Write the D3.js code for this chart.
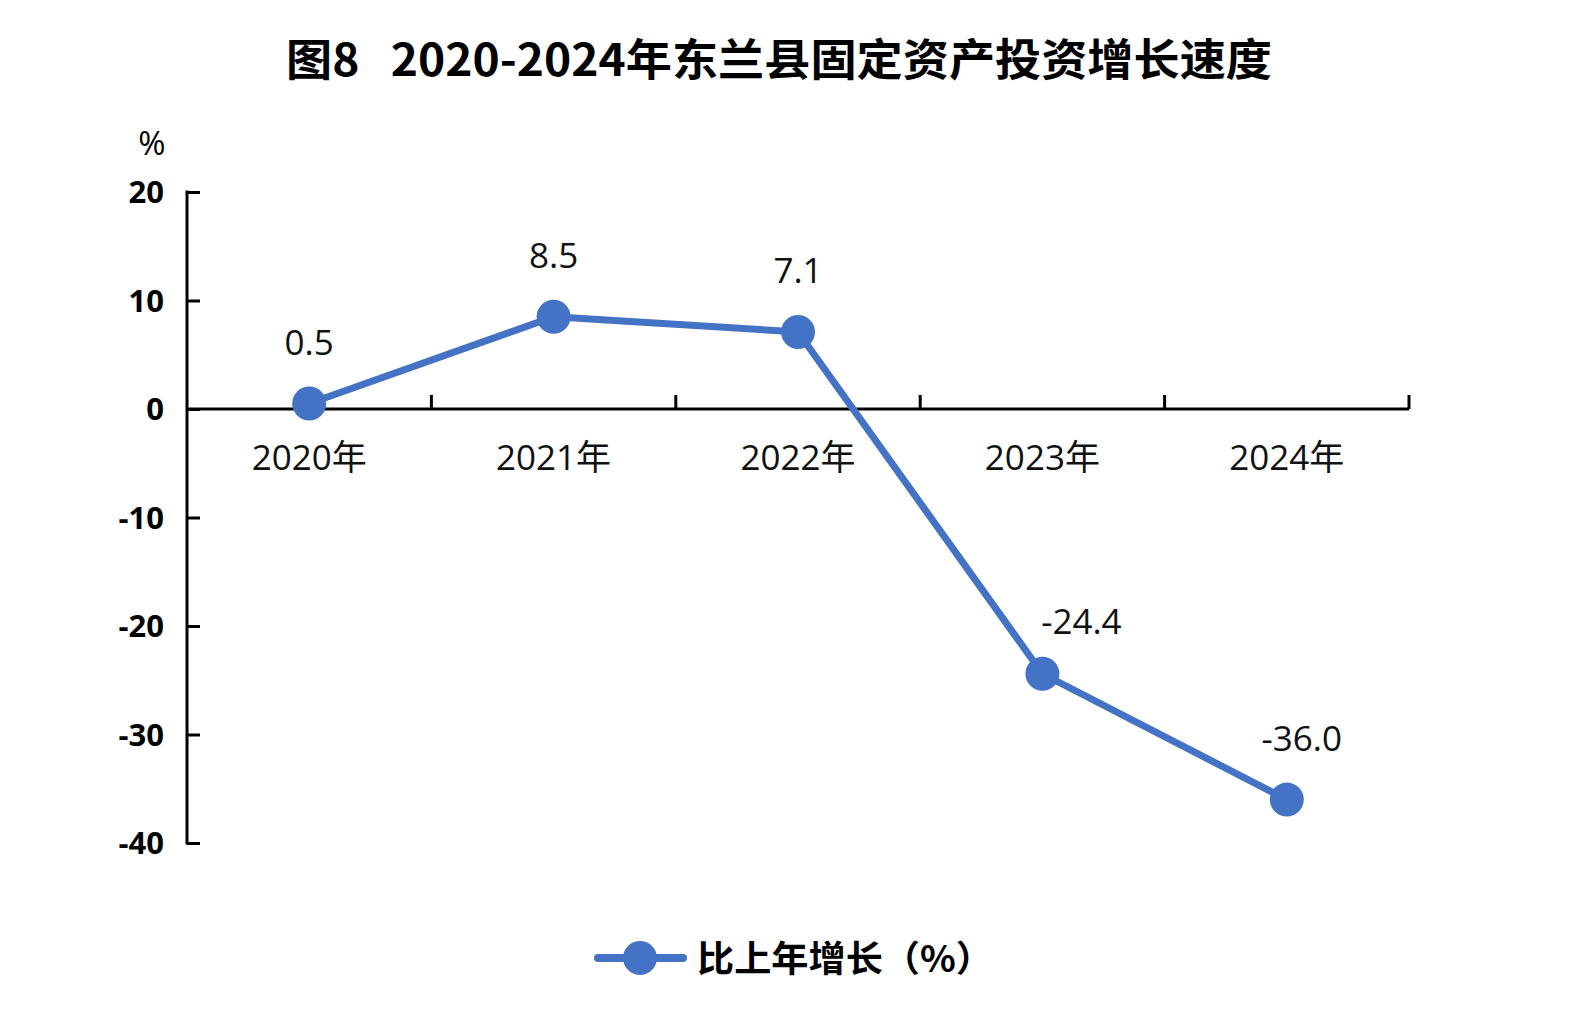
<!DOCTYPE html>
<html><head><meta charset="utf-8">
<script src="https://cdn.jsdelivr.net/npm/d3@7"></script>
<style>
html,body{margin:0;padding:0;background:#fff;}
svg{display:block;}
</style></head>
<body>
<script>
const title = "图8   2020-2024年东兰县固定资产投资增长速度";
const categories = ["2020年","2021年","2022年","2023年","2024年"];
const values = [0.5, 8.5, 7.1, -24.4, -36.0];
const valueLabels = ["0.5","8.5","7.1","-24.4","-36.0"];
const yTicks = [20, 10, 0, -10, -20, -30, -40];
const seriesName = "比上年增长（%）";
const yUnit = "%";
const labelShift = [[0,0],[0,0],[0,0],[39,9],[15,0]];

const W = 1579, H = 1022;
const color = "#4472C4";
const numFont = "'Open Sans','Noto Sans CJK SC',sans-serif";
const cjkFont = "'Noto Sans CJK SC','Open Sans',sans-serif";

const svg = d3.select("body").append("svg").attr("width", W).attr("height", H);

const x = d3.scaleBand().domain(categories).range([187, 1409]).padding(0);
const y = d3.scaleLinear().domain([-40, 20]).range([843, 192]);

// title
svg.append("text").attr("x", 779).attr("y", 76).attr("text-anchor","middle")
  .attr("font-family", cjkFont).attr("font-weight","bold").attr("font-size", 44)
  .attr("textLength", 986).attr("lengthAdjust","spacingAndGlyphs")
  .text(title.replace(/ /g, "\u00A0"));

// unit
svg.append("text").attr("x", 152).attr("y", 155).attr("text-anchor","middle")
  .attr("font-family", numFont).attr("font-size", 33).text(yUnit);

// y axis
const yAxis = d3.axisRight(y).tickValues(yTicks).tickSize(13).tickFormat("");
const gy = svg.append("g").attr("transform","translate(187,0)").call(yAxis);
gy.select(".domain").remove();
gy.selectAll(".tick line").attr("stroke","#000").attr("stroke-width",3);
svg.append("line").attr("x1",187).attr("x2",187).attr("y1",y(20)-1.5).attr("y2",y(-40)+1.5)
  .attr("stroke","#000").attr("stroke-width",3);
svg.append("g").selectAll("text").data(yTicks).join("text")
  .attr("x", 164).attr("y", d => y(d)).attr("dy","0.36em").attr("text-anchor","end")
  .attr("font-family", numFont).attr("font-weight","bold").attr("font-size", 31)
  .text(d => d);

// x axis at zero
const xAxis = d3.axisTop(x).tickSize(0).tickFormat("");
const gx = svg.append("g").attr("transform",`translate(0,${y(0)})`).call(xAxis);
gx.select(".domain").attr("stroke","#000").attr("stroke-width",3).attr("d", `M187,0H1409`);
const bounds = categories.map(c => x(c) + x.bandwidth());
svg.append("g").selectAll("line").data(bounds).join("line")
  .attr("x1", d => d).attr("x2", d => d).attr("y1", y(0)).attr("y2", y(0)-14)
  .attr("stroke","#000").attr("stroke-width",3);
svg.append("g").selectAll("text").data(categories).join("text")
  .attr("x", d => x(d) + x.bandwidth()/2).attr("y", 470).attr("text-anchor","middle")
  .attr("font-family", numFont).attr("font-size", 35).attr("fill","#111")
  .text(d => d);

// line
const pts = categories.map((c,i) => ({c, v: values[i], l: valueLabels[i], s: labelShift[i]}));
const line = d3.line().x(d => x(d.c) + x.bandwidth()/2).y(d => y(d.v));
svg.append("path").datum(pts).attr("d", line).attr("fill","none")
  .attr("stroke", color).attr("stroke-width", 7).attr("stroke-linejoin","round");
svg.append("g").selectAll("circle").data(pts).join("circle")
  .attr("cx", d => x(d.c) + x.bandwidth()/2).attr("cy", d => y(d.v)).attr("r", 17)
  .attr("fill", color);
svg.append("g").selectAll("text").data(pts).join("text")
  .attr("x", d => x(d.c) + x.bandwidth()/2 + d.s[0]).attr("y", d => y(d.v) - 49 + d.s[1])
  .attr("text-anchor","middle").attr("font-family", numFont).attr("font-size", 35).attr("fill","#111")
  .text(d => d.l);

// legend
const lg = svg.append("g");
lg.append("line").attr("x1",598).attr("x2",683).attr("y1",958).attr("y2",958)
  .attr("stroke",color).attr("stroke-width",8).attr("stroke-linecap","round");
lg.append("circle").attr("cx",640).attr("cy",958).attr("r",17).attr("fill",color);
lg.append("text").attr("x",697).attr("y",972).attr("font-family",cjkFont)
  .attr("font-weight","bold").attr("font-size",36).attr("textLength",296)
  .attr("lengthAdjust","spacingAndGlyphs").text(seriesName);
</script>
</body></html>
